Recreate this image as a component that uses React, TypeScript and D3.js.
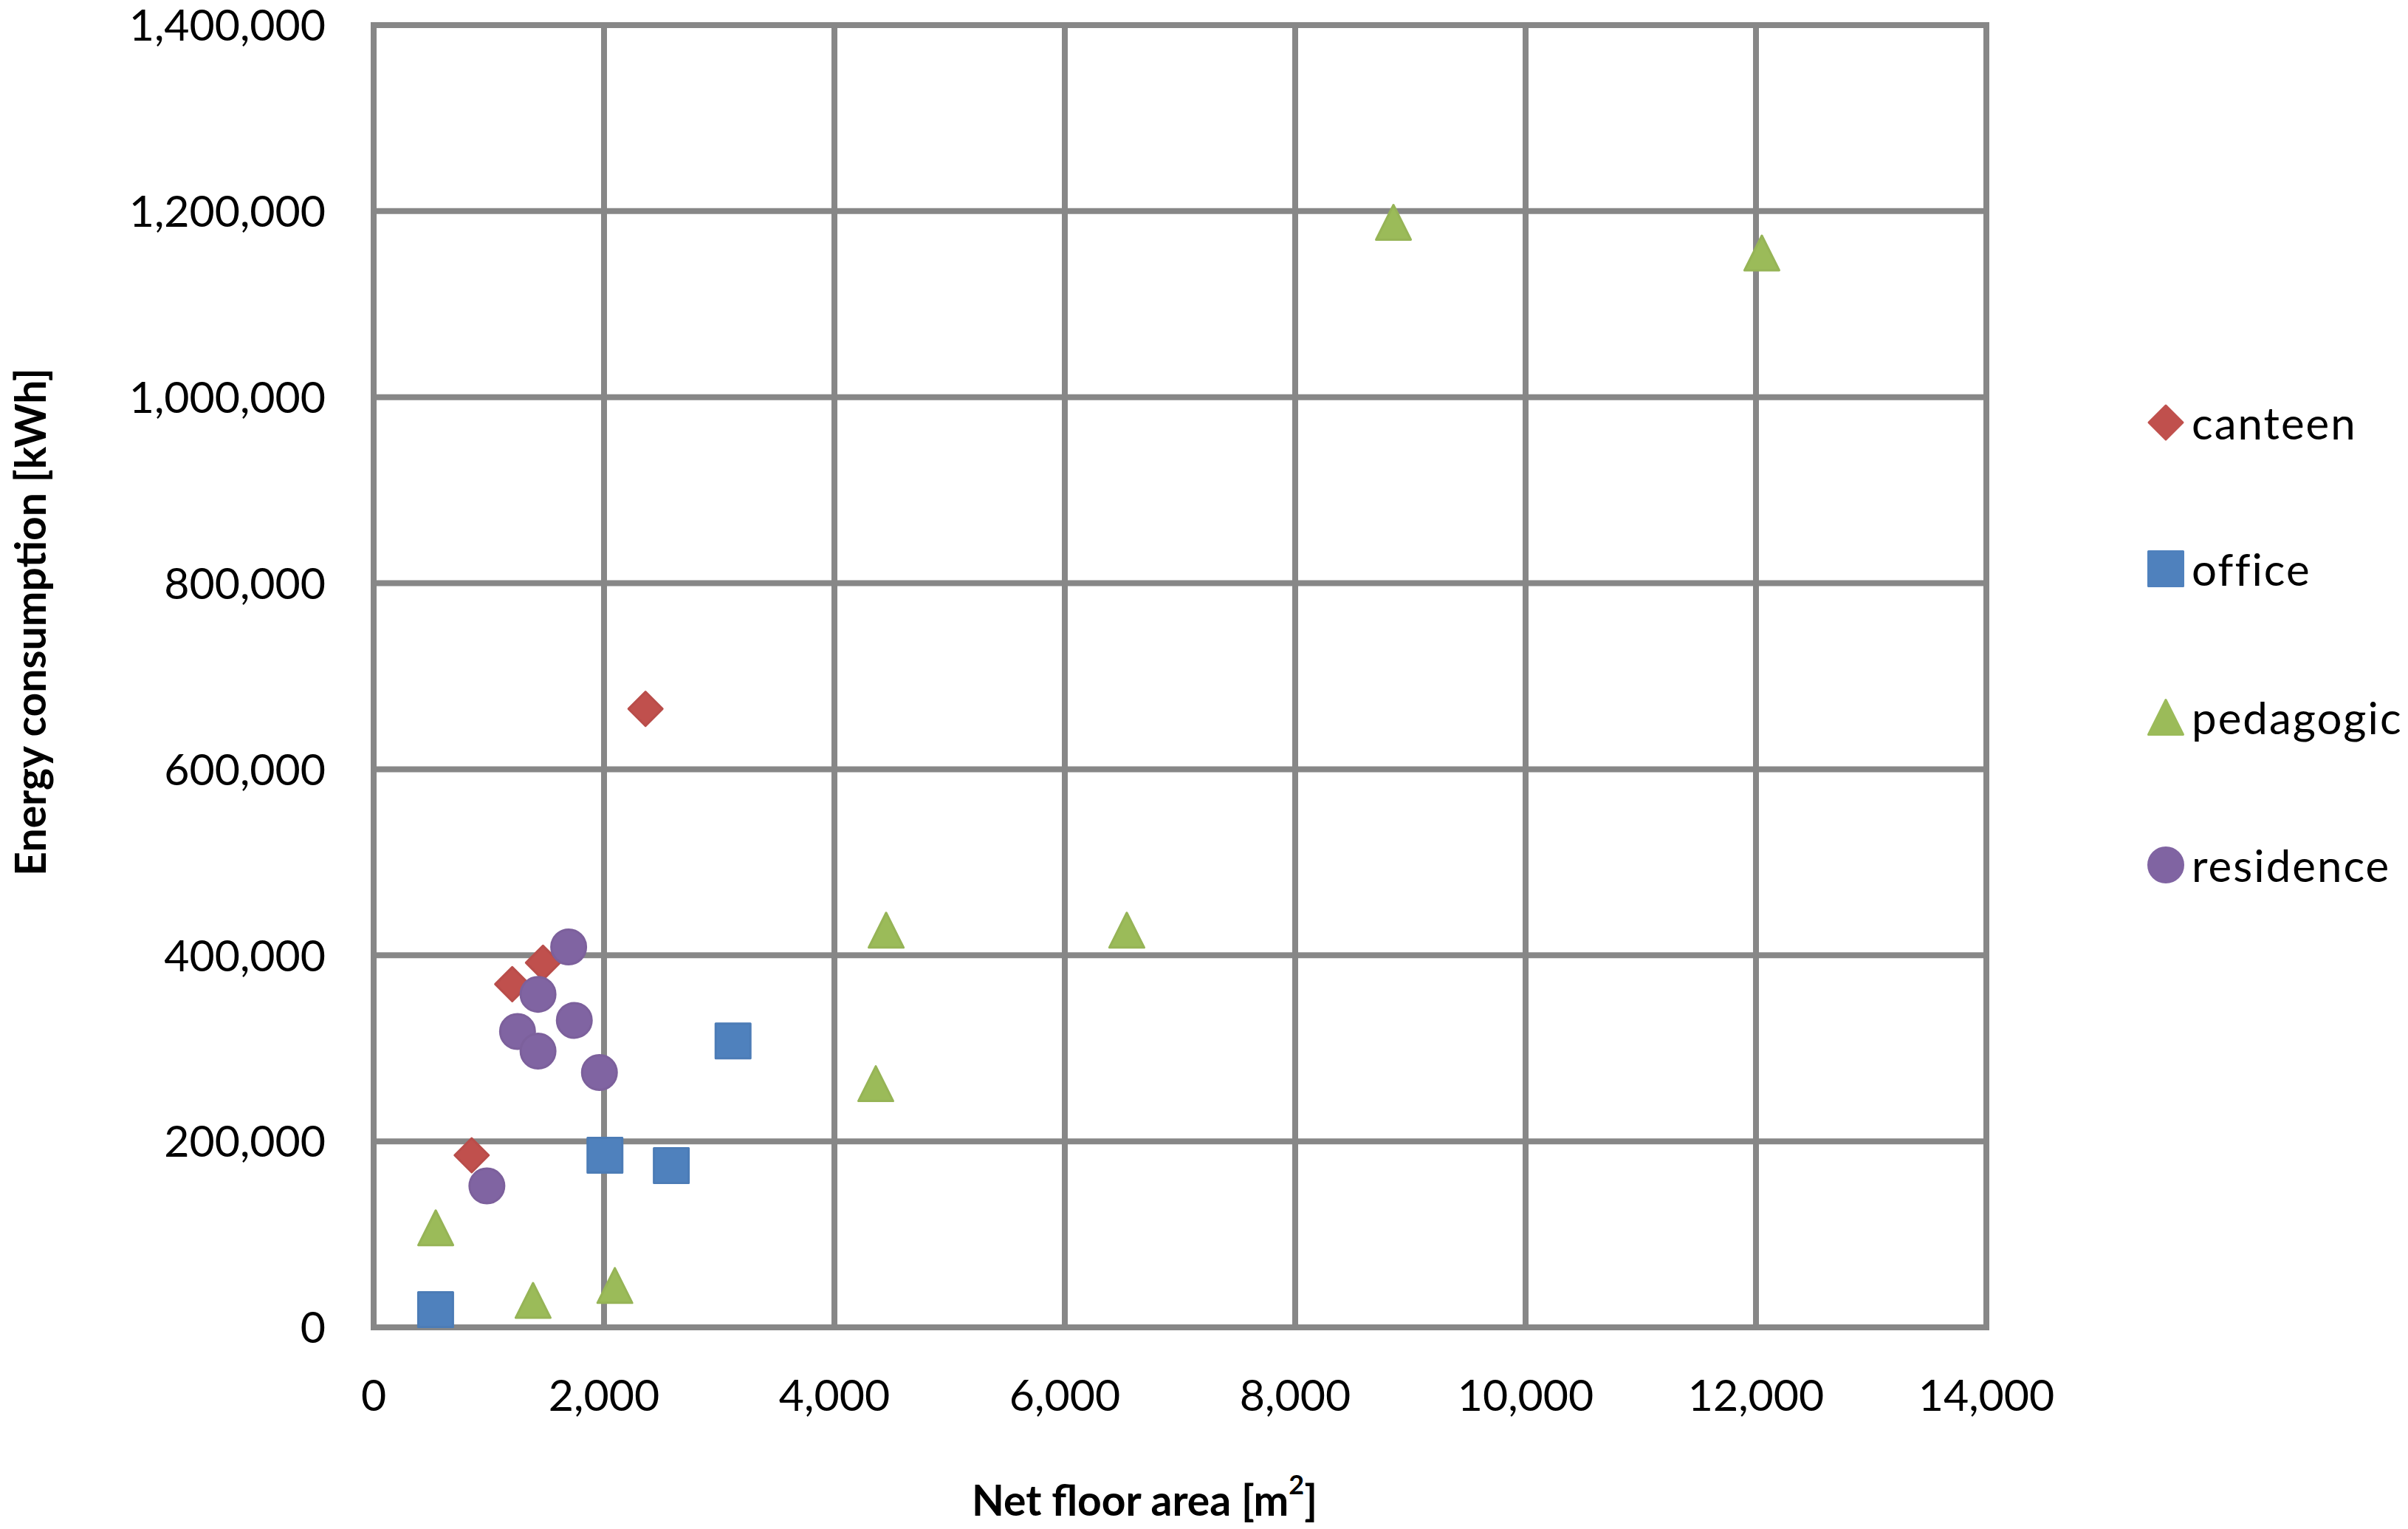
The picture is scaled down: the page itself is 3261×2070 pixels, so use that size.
// Scatter: net floor area vs energy consumption, by building type
import React, { useEffect, useRef } from 'react';
import * as d3 from 'd3';

const seriesNames = ['canteen', 'office', 'pedagogic', 'residence'];
const seriesColors = ['#C0504D', '#4F81BD', '#9BBB59', '#8064A2'];

const canteenArea = [851, 1203, 1470, 2360];
const canteenEnergy = [185000, 369000, 392000, 665000];

const officeArea = [538, 2008, 2584, 3120];
const officeEnergy = [19000, 185000, 174000, 308000];

const pedagogicArea = [539, 1384, 2094, 4359, 4449, 6538, 8853, 12051];
const pedagogicEnergy = [107000, 29000, 45000, 262000, 427000, 427000, 1188000, 1155000];

const residenceArea = [983, 1249, 1427, 1427, 1693, 1742, 1960];
const residenceEnergy = [152000, 318000, 358000, 297000, 409000, 330000, 274000];

const xTicks = [0, 2000, 4000, 6000, 8000, 10000, 12000, 14000];
const yTicks = [0, 200000, 400000, 600000, 800000, 1000000, 1200000, 1400000];

// Excel-like marker shapes (size = width in px)
const diamond = {
  draw(ctx: any, s: number) {
    const r = s / 2;
    ctx.moveTo(0, -r);
    ctx.lineTo(r, 0);
    ctx.lineTo(0, r);
    ctx.lineTo(-r, 0);
    ctx.closePath();
  }
};
const square = {
  draw(ctx: any, s: number) {
    const r = s / 2;
    ctx.rect(-r, -r, s, s);
  }
};
const triangle = {
  draw(ctx: any, s: number) {
    const r = s / 2;
    ctx.moveTo(0, -r);
    ctx.lineTo(r, r);
    ctx.lineTo(-r, r);
    ctx.closePath();
  }
};
const circle = {
  draw(ctx: any, s: number) {
    const r = s / 2;
    ctx.moveTo(r, 0);
    ctx.arc(0, 0, r, 0, 2 * Math.PI);
  }
};

const App: React.FC = () => {
  const svgRef = useRef<SVGSVGElement>(null);

  useEffect(() => {
    if (!svgRef.current) return;
    const svg = d3.select(svgRef.current);
    svg.selectAll('*').remove();

    const width = 3261;
    const height = 2070;
    const left = 506, right = 2690, top = 34, bottom = 1797;
    const font = 'Lato, "Open Sans", sans-serif';
    const gridColor = '#878787';
    const tickSize = 59;

    const x = d3.scaleLinear().domain([0, 14000]).range([left, right]);
    const y = d3.scaleLinear().domain([0, 1400000]).range([bottom, top]);

    svg.append('rect').attr('width', width).attr('height', height).attr('fill', '#fff');

    // gridlines (both directions, border included)
    svg.append('g')
      .selectAll('line')
      .data(yTicks)
      .enter()
      .append('line')
      .attr('x1', left - 4)
      .attr('x2', right + 4)
      .attr('y1', d => y(d))
      .attr('y2', d => y(d))
      .attr('stroke', gridColor)
      .attr('stroke-width', 8);

    svg.append('g')
      .selectAll('line')
      .data(xTicks)
      .enter()
      .append('line')
      .attr('x1', d => x(d))
      .attr('x2', d => x(d))
      .attr('y1', top - 4)
      .attr('y2', bottom + 4)
      .attr('stroke', gridColor)
      .attr('stroke-width', 8);

    const fmt = d3.format(',');

    // y tick labels (baseline placed by hand so the top one stays inside)
    svg.append('g')
      .selectAll('text')
      .data(yTicks)
      .enter()
      .append('text')
      .attr('x', 441)
      .attr('y', d => y(d) + tickSize * 0.36)
      .attr('text-anchor', 'end')
      .attr('font-family', font)
      .attr('font-size', tickSize)
      .attr('fill', '#000')
      .text(d => fmt(d));

    // x tick labels
    svg.append('g')
      .selectAll('text')
      .data(xTicks)
      .enter()
      .append('text')
      .attr('x', d => x(d))
      .attr('y', 1889 + tickSize * 0.36)
      .attr('text-anchor', 'middle')
      .attr('font-family', font)
      .attr('font-size', tickSize)
      .attr('fill', '#000')
      .text(d => fmt(d));

    // axis titles
    svg.append('text')
      .attr('transform', 'translate(40,842) rotate(-90)')
      .attr('text-anchor', 'middle')
      .attr('dominant-baseline', 'central')
      .attr('font-family', font)
      .attr('font-weight', 'bold')
      .attr('font-size', 57)
      .attr('fill', '#000')
      .text('Energy consumption [kWh]');

    const xTitle = svg.append('text')
      .attr('x', 1550)
      .attr('y', 2030)
      .attr('text-anchor', 'middle')
      .attr('dominant-baseline', 'central')
      .attr('font-family', font)
      .attr('font-weight', 'bold')
      .attr('font-size', 57)
      .attr('fill', '#000');
    xTitle.append('tspan').text('Net floor area [m');
    xTitle.append('tspan').attr('font-size', 36).attr('dy', -21).text('2');
    xTitle.append('tspan').attr('dy', 21).text(']');

    const series = [
      { xs: canteenArea, ys: canteenEnergy, shape: diamond, size: 46 },
      { xs: officeArea, ys: officeEnergy, shape: square, size: 47 },
      { xs: pedagogicArea, ys: pedagogicEnergy, shape: triangle, size: 47 },
      { xs: residenceArea, ys: residenceEnergy, shape: circle, size: 47 }
    ];

    series.forEach((s, i) => {
      const sym = d3.symbol().type(s.shape as any).size(s.size);
      svg.append('g')
        .selectAll('path')
        .data(s.xs.map((v, j) => [v, s.ys[j]]))
        .enter()
        .append('path')
        .attr('transform', d => `translate(${x(d[0])},${y(d[1])})`)
        .attr('d', sym() as string)
        .attr('fill', seriesColors[i])
        .attr('stroke', d3.color(seriesColors[i])?.darker(0.1).toString() || seriesColors[i])
        .attr('stroke-width', 3)
        .attr('stroke-linejoin', 'round');
    });

    // legend
    const legendY = [572, 770, 971, 1171];
    seriesNames.forEach((name, i) => {
      const sym = d3.symbol().type(series[i].shape as any).size(series[i].size);
      svg.append('path')
        .attr('transform', `translate(2933,${legendY[i]})`)
        .attr('d', sym() as string)
        .attr('fill', seriesColors[i])
        .attr('stroke', seriesColors[i])
        .attr('stroke-width', 3)
        .attr('stroke-linejoin', 'round');
      svg.append('text')
        .attr('x', 2968)
        .attr('y', legendY[i])
        .attr('dominant-baseline', 'central')
        .attr('font-family', font)
        .attr('font-size', 60)
        .attr('letter-spacing', 2)
        .attr('fill', '#000')
        .text(name);
    });
  }, []);

  return (
    <div style={{ position: 'absolute', left: 0, top: 0 }}>
      <svg ref={svgRef} width={3261} height={2070} style={{ display: 'block' }} />
    </div>
  );
};

export default App;
